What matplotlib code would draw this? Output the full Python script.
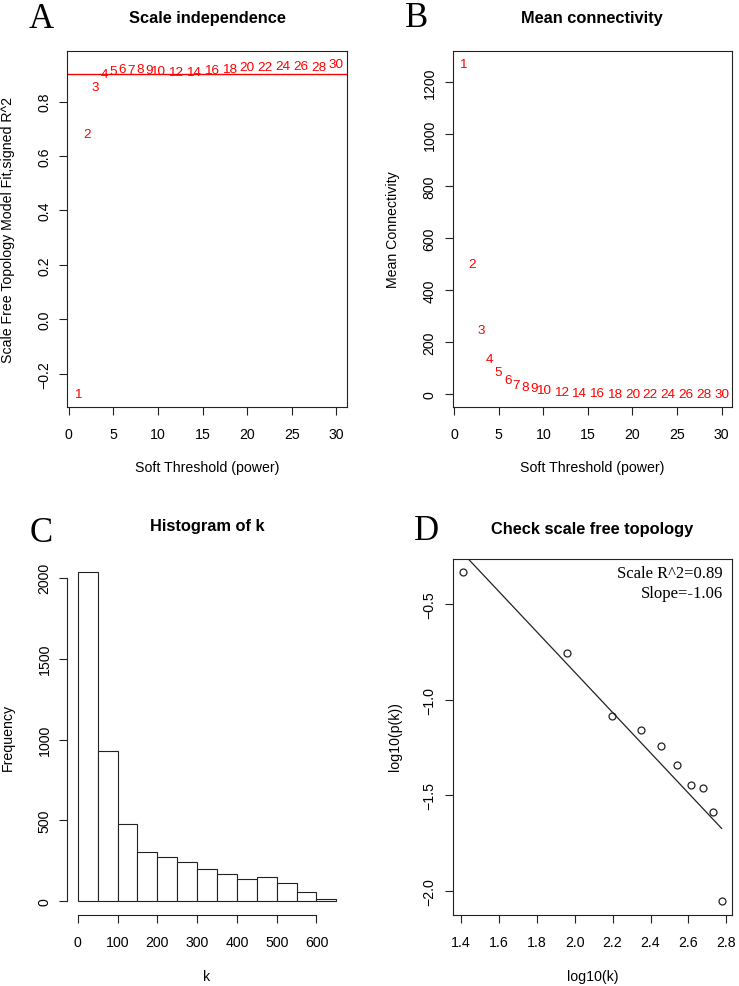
import matplotlib
matplotlib.use("Agg")
import matplotlib.pyplot as plt
import numpy as np

plt.rcParams['font.family'] = ['Liberation Sans', 'DejaVu Sans']

# ---------------- data ----------------
powers = [1, 2, 3, 4, 5, 6, 7, 8, 9, 10, 12, 14, 16, 18, 20, 22, 24, 26, 28, 30]
signed_r2 = [-0.275, 0.681, 0.853, 0.902, 0.911, 0.919, 0.916, 0.919, 0.916, 0.911,
             0.908, 0.908, 0.916, 0.919, 0.926, 0.926, 0.931, 0.932, 0.928, 0.936]
r2_cutoff = 0.9
mean_conn = [1268, 501, 247, 137, 85, 56, 37, 27, 23, 17,
             8, 5, 3, 2, 1.5, 1.2, 1.0, 0.8, 0.6, 0.5]

hist_edges = [0, 50, 100, 150, 200, 250, 300, 350, 400, 450, 500, 550, 600, 650]
hist_counts = [2035, 929, 478, 305, 272, 243, 200, 167, 136, 150, 113, 58, 14]

log_k = [1.412, 1.961, 2.197, 2.348, 2.453, 2.541, 2.613, 2.677, 2.728, 2.775]
log_pk = [-0.331, -0.754, -1.084, -1.157, -1.239, -1.341, -1.443, -1.460, -1.589, -2.054]
scale_r2_text = "0.89"
slope_text = "-1.06"

# ---------------- figure ----------------
W, H = 739, 987
fig = plt.figure(figsize=(W / 100, H / 100), dpi=100)

def px_axes(left, top, w, h):
    return fig.add_axes([left / W, 1 - (top + h) / H, w / W, h / H])

def rlim(vals):
    lo, hi = min(vals), max(vals)
    p = 0.04 * (hi - lo)
    return lo - p, hi + p

def fmt(v, d=1):
    s = f"{v:.{d}f}"
    return s.replace("-", "\u2212")

TICK_FS = 10.2
LAB_FS = 10.2
TITLE_FS = 11.8

def style(ax):
    ax.tick_params(direction='out', length=6, width=0.8, labelsize=TICK_FS,
                   colors='#222222', labelcolor='black')
    ax.tick_params(axis='x', pad=8.5)
    ax.tick_params(axis='y', labelrotation=90, pad=5.5)
    for lab in ax.get_yticklabels():
        lab.set_va('center')
    for s in ax.spines.values():
        s.set_linewidth(0.8)
        s.set_color('#222222')
    ax.set_facecolor('white')

def fig_text(x, y, s, **kw):
    fig.text(x / W, 1 - y / H, s, **kw)

AW, AH = 279.3, 356
LX1, LX2 = 67.4, 452.7
TY1, TY2 = 52.3, 560.0

# ---- A ----
axA = px_axes(LX1, TY1, AW, AH)
for p, v in zip(powers, signed_r2):
    axA.text(p, v, str(p), color='red', ha='center', va='center', fontsize=9.7)
axA.axhline(r2_cutoff, color='red', lw=1.0)
axA.set_xlim(*rlim(powers))
axA.set_ylim(*rlim(signed_r2))
axA.set_xticks([0, 5, 10, 15, 20, 25, 30])
yA = [-0.2, 0.0, 0.2, 0.4, 0.6, 0.8]
axA.set_yticks(yA)
axA.set_yticklabels([fmt(v) for v in yA])
style(axA)

# ---- B ----
axB = px_axes(LX2, TY1, AW, AH)
for p, v in zip(powers, mean_conn):
    axB.text(p, v, str(p), color='red', ha='center', va='center', fontsize=9.7)
axB.set_xlim(*rlim(powers))
axB.set_ylim(*rlim(mean_conn))
axB.set_xticks([0, 5, 10, 15, 20, 25, 30])
axB.set_yticks([0, 200, 400, 600, 800, 1000, 1200])
style(axB)

# ---- C ----
axC = px_axes(LX1, TY2, AW, 355.5)
edges = np.array(hist_edges, dtype=float)
axC.bar(edges[:-1], hist_counts, width=np.diff(edges), align='edge',
        facecolor='white', edgecolor='#222222', linewidth=0.8)
axC.set_xlim(*rlim(hist_edges))
axC.set_ylim(*rlim([0] + hist_counts))
axC.set_xticks([0, 100, 200, 300, 400, 500, 600])
axC.set_yticks([0, 500, 1000, 1500, 2000])
style(axC)
axC.spines['top'].set_visible(False)
axC.spines['right'].set_visible(False)
axC.spines['left'].set_bounds(0, 2000)
axC.spines['bottom'].set_bounds(0, 600)

# ---- D ----
axD = px_axes(LX2, TY2, AW, 355.5)
axD.plot(log_k, log_pk, 'o', mfc='none', mec='#222222', mew=0.9, ms=5)
m, b = np.polyfit(log_k, log_pk, 1)
xfit = np.array([min(log_k), max(log_k)])
axD.plot(xfit, m * xfit + b, color='#222222', lw=0.9)
axD.set_xlim(*rlim(log_k))
axD.set_ylim(*rlim(log_pk))
axD.set_xticks([1.4, 1.6, 1.8, 2.0, 2.2, 2.4, 2.6, 2.8])
yD = [-2.0, -1.5, -1.0, -0.5]
axD.set_yticks(yD)
axD.set_yticklabels([fmt(v) for v in yD])
style(axD)

# ---- titles, labels, letters ----
serif = ['Liberation Serif', 'DejaVu Serif']
cxA = LX1 + AW / 2
cxB = LX2 + AW / 2
fig_text(cxA, 23.3, "Scale independence", ha='center', va='baseline',
         fontsize=TITLE_FS, fontweight='bold')
fig_text(cxB, 23.3, "Mean connectivity", ha='center', va='baseline',
         fontsize=TITLE_FS, fontweight='bold')
fig_text(cxA, 531, "Histogram of k", ha='center', va='baseline',
         fontsize=TITLE_FS, fontweight='bold')
fig_text(cxB, 534, "Check scale free topology", ha='center', va='baseline',
         fontsize=TITLE_FS, fontweight='bold')

fig_text(cxA, 468.3, "Soft Threshold (power)", ha='center', va='center', fontsize=LAB_FS)
fig_text(cxB, 468.3, "Soft Threshold (power)", ha='center', va='center', fontsize=LAB_FS)
fig_text(cxA, 976.7, "k", ha='center', va='center', fontsize=LAB_FS)
fig_text(cxB, 976.7, "log10(k)", ha='center', va='center', fontsize=LAB_FS)

fig_text(8.3, 230, "Scale Free Topology Model Fit,signed R^2", ha='center', va='center',
         rotation=90, fontsize=LAB_FS)
fig_text(393.5, 230, "Mean Connectivity", ha='center', va='center',
         rotation=90, fontsize=LAB_FS)
fig_text(8.3, 737, "Frequency", ha='center', va='center', rotation=90, fontsize=LAB_FS)
fig_text(395, 737, "log10(p(k))", ha='center', va='center', rotation=90, fontsize=LAB_FS)

fig_text(722.7, 577.7, "Scale R^2=" + scale_r2_text, ha='right', va='baseline',
         fontsize=12, family=serif)
fig_text(722.7, 597.7, "Slope=" + slope_text, ha='right', va='baseline',
         fontsize=12, family=serif)

fig_text(29, 28, "A", ha='left', va='baseline', fontsize=25, family=serif)
fig_text(405, 27, "B", ha='left', va='baseline', fontsize=25, family=serif)
fig_text(30, 542, "C", ha='left', va='baseline', fontsize=25, family=serif)
fig_text(414, 540, "D", ha='left', va='baseline', fontsize=25, family=serif)

fig.savefig("out.png", dpi=100, facecolor='white')
